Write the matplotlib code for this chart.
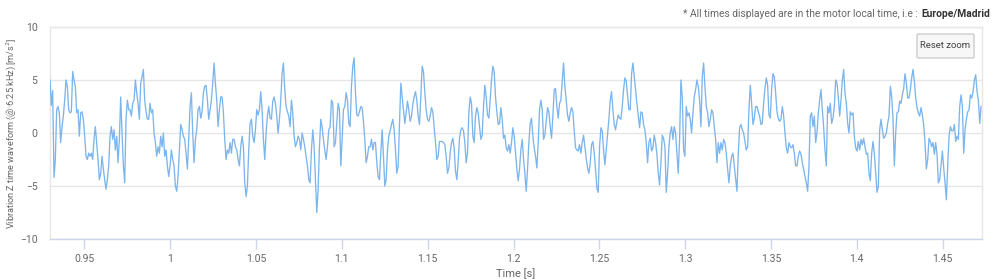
import numpy as np
import matplotlib
matplotlib.use("Agg")
import matplotlib.pyplot as plt
from matplotlib.patches import FancyBboxPatch
from matplotlib.lines import Line2D

plt.rcParams['font.family'] = ['Roboto', 'DejaVu Sans']

# DATA
# vibration z waveform, one value every dt seconds
t_start = 0.930
dt = 0.000777

z_0930 = [5.0, 2.6, 4.0, -4.2, -2.5, 2.2, 2.5, 1.9, -0.9, 0.6, 1.6, 3.1, 5.0, 4.4, 2.2, 1.9,
          2.0, 5.8, 5.0, 4.4, 1.9, 2.2, -0.3, 1.9, 2.0, 1.3, -0.3, -2.2, -2.5, -1.9, -2.2, -1.9,
          -2.5, -0.6, 0.6, -0.9, -2.5, -4.4, -3.8, -2.2, -3.4, -4.4, -5.3, -4.4, -3.1, -0.3, 0.6,
          -0.6, 0.3, -1.6, -0.3, -2.8, -0.6, 3.4, 0.0, -3.1, -4.7, 1.3, 3.1, 2.2, 2.2, 1.6, 2.8,
          3.1, 5.0, 3.8, 2.8, 1.3, 4.7, 5.3, 6.0, 3.1, 2.0, 1.3, 1.3, 2.8, 1.9, 2.2, 0.0, -0.9,
          -2.2, -1.3, -1.9, -0.3, -1.3, 0.0, -2.2, -1.6, -3.1, -4.1, -3.1]

z_1001 = [-1.6, -2.5, -3.1, -5.0, -5.5, -4.1, -1.6, 0.8, 0.3, -0.3, -0.6, -1.9, -3.4, -0.6, 2.5,
          3.8, 0.0, -2.8, -0.6, 0.3, 2.2, 2.5, 1.4, 2.0, 3.8, 4.4, 4.5, 3.1, 1.3, 2.2, 3.1, 4.7,
          6.6, 4.7, 3.1, 0.6, 2.2, 3.4, 3.4, 1.9, -0.6, -2.5, -1.6, -1.9, -0.9, -1.9, -0.6, -0.6,
          -1.3, -1.6, -2.5, -3.1, -1.3, -0.3, -1.3, -4.7, -6.0, -5.0, -1.6, 0.9, 1.3, -0.3, -0.9,
          0.3, 2.2, 1.7, 2.2, 3.9, 2.2, -0.6, -2.5, 0.0, 1.6, 2.5, 1.4, 1.3, 3.0, 3.4, 2.8, 1.6,
          0.0, 1.3, 3.1, 5.6, 6.6, 4.1, 2.5, 2.0, 1.6, 0.6, 3.1, 1.9, -0.3, -1.3, -0.9, -0.3,
          -0.6, -1.6, 0.0, -0.6, -1.3, -2.2, -3.1, -4.4, -4.7, -1.6, 0.3, -1.3, -4.4, -7.5, -5.3,
          -1.3, 1.3, 0.6, -0.6, -1.6, -2.5, -1.3, 0.3, 0.6, 3.1, 2.8, -1.3]

z_1096 = [-0.9, 0.9, 2.8, 2.2, -3.1, -0.6, 2.2, 2.5, 3.8, 3.1, 0.9, 0.6, 4.4, 6.3, 7.1, 3.8,
          1.7, 1.6, 2.0, 2.5, 2.4, 1.1, -0.6, -2.8, -2.2, -1.3, -1.3, -0.6, -1.6, -0.9, -0.9,
          -2.8, -4.1, -4.4, -1.9, 0.3, -2.2, -5.0, -4.4, -1.6, -0.3, 0.2, 0.8, 1.3, 0.3, -1.6,
          -3.8, -3.1, 0.9, 4.7, 3.4, 2.2, 0.9, 1.9, 3.0, 2.2, 1.1, 1.6, 2.7, 3.4, 3.9, 3.1, 1.6,
          0.8, 3.4, 6.3, 5.8, 3.8, 2.2, 1.3, 1.1, 1.6, 2.4, 2.0, 0.6, -0.9, -2.5, -2.2, -0.8,
          -0.8, -0.8, -0.9, -1.1, -2.2, -3.8, -3.3, -1.9, -0.9, -0.5, -1.4, -3.6, -4.4, -2.7,
          -0.5, 0.3, 0.5, 0.2, -0.9, -2.8, -1.9, 1.9, 3.4, 2.8, -0.3, -0.9, 1.6, 2.4, 1.9, 0.6,
          -0.6, -0.2, 2.5, 4.5, 3.4, 1.7, 1.4, 3.1, 5.0, 6.3, 5.8, 3.4, 2.0, 0.8, 0.9]

z_1193 = [2.4, 1.3, -0.5, -0.2, -1.4, -1.7, -1.1, -1.9, -0.9, 0.5, -0.3, -1.9, -3.4, -4.5, -3.4,
          -1.6, -0.6, -2.4, -3.8, -5.5, -3.4, -0.9, 0.9, 1.4, -0.3, -1.4, -2.2, -3.3, -0.9, 2.2,
          3.1, 2.2, -0.6, -0.2, 1.1, 2.4, 2.0, 0.6, -0.5, 1.6, 4.1, 4.2, 2.5, 1.4, 2.8, 3.1, 4.9,
          6.6, 4.4, 3.0, 1.7, 1.1, 1.9, 2.4, 2.0, 0.2, -1.4, -1.6, -1.7, -1.1, -1.9, -0.9, -0.2,
          -1.3, -2.4, -3.3, -3.8, -2.8, -1.1, -0.8, -1.9, -3.4, -5.2, -5.6, -1.3, 0.5, 0.2, -1.6,
          -3.0, -1.6, -0.2, 1.3, 3.1, 3.9, 2.2, 0.8, 0.3, 1.1, 1.7, 1.4, 1.3, 2.5, 4.1, 5.2, 4.9,
          3.6, 2.2, 2.2, 5.6, 6.6, 5.3, 3.9, 2.8, 1.6, 0.5, 2.0, 1.9, 0.8, 0.3, -0.9, -2.8, -0.9,
          -0.5, -1.7, -1.4, -0.2, -0.9, -2.0, -3.8, -4.9, -2.8, -0.2, -0.5, -1.3]

z_1289 = [-5.6, -3.8, -1.3, 0.0, 0.6, -0.6, 0.6, 0.0, -1.9, -3.8, -0.6, 5.0, 3.4, -1.6, -2.2,
          2.5, 1.6, 1.9, 1.3, 0.0, 1.9, 3.4, 4.1, 5.0, 4.4, 3.1, 0.6, 5.3, 6.6, 4.4, 2.5, 1.9,
          0.6, 1.3, 2.2, 1.9, 0.6, -0.6, -2.8, -0.9, -1.9, -0.9, -1.6, -0.6, -0.9, -1.9, -3.4,
          -4.7, -3.1, -2.2, -1.9, -3.1, -4.4, -5.5, -1.9, 0.5, 0.8, 0.3, 0.0, -0.8, -1.6, -1.3,
          2.2, 4.5, 2.8, 0.8, 1.4, 2.5, 2.5, 2.0, 1.6, 0.8, 0.9, 2.8, 4.2, 5.2, 4.5, 1.7, 1.4,
          4.1, 5.6, 5.3, 3.8, 2.0, 1.4, 1.1, 1.3, 2.5, 1.6, 0.0, -1.4, -1.9, -0.9, -1.3, -1.4,
          -1.1, -1.9, -3.1, -3.1, -2.2, -1.7, -2.0, -2.8, -3.4, -4.1, -4.7, -5.5, -3.1, 1.6, 1.9,
          0.6, 1.6, -0.9, 0.0, 1.9, 3.1, 4.1, 2.2, 0.6, -1.6, -3.1, 2.5, 1.9, 2.8]

z_1385 = [0.9, 1.4, 2.5, 5.0, 4.7, 3.4, 1.6, 3.1, 5.0, 6.0, 3.8, 2.8, 0.9, 0.0, 2.0, 1.7, 1.9,
          -0.3, -1.4, -1.7, -0.8, -1.6, -0.6, -1.1, -0.5, -1.3, -2.0, -1.9, -3.8, -4.5, -1.9,
          -0.8, -1.9, -3.8, -5.6, -5.0, 0.3, 1.3, 0.3, -0.5, -0.3, 0.0, 0.9, 1.6, 4.4, 3.4, 1.3,
          -3.1, 0.0, 1.9, 2.0, 3.0, 2.8, 3.6, 4.2, 5.6, 4.7, 3.3, 3.3, 4.1, 5.2, 6.0, 4.9, 3.3,
          2.4, 1.9, 1.6, 2.4, 1.7, 0.8, -0.9, -3.4, -2.5, -0.5, -0.8, -1.3, -0.9, -2.0, -0.9,
          -2.0, -4.7, -4.4, -3.0, -1.7, -3.3, -4.7, -6.3, -3.1, -0.3, 0.6, 0.2, 0.2, 0.8, -0.8,
          -0.3, -0.6, 2.5, 3.6, 2.5, -1.9, 0.3, 1.3, 2.0, 2.2, 3.6, 3.3, 3.9, 5.0, 5.5, 3.9, 3.1,
          0.9, 2.5]

x_ticks = [0.95, 1.0, 1.05, 1.1, 1.15, 1.2, 1.25, 1.3, 1.35, 1.4, 1.45]
x_tick_labels = ['0.95', '1', '1.05', '1.1', '1.15', '1.2', '1.25', '1.3', '1.35', '1.4', '1.45']
y_ticks = [-10, -5, 0, 5, 10]

z = np.array(z_0930 + z_1001 + z_1096 + z_1193 + z_1289 + z_1385)
t = t_start + dt * np.arange(len(z))

W, H = 1000, 279
fig = plt.figure(figsize=(W / 100, H / 100), dpi=100)
ax = fig.add_axes([50 / W, 1 - 239 / H, 932 / W, 212 / H])

ax.plot(t, z, color='#7cb5ec', lw=0.95, zorder=3)

ax.set_xlim(0.930, 1.4729)
ax.set_ylim(-10, 10)
ax.set_yticks(y_ticks)
ax.set_xticks(x_ticks)
ax.set_xticklabels(x_tick_labels)
ax.grid(axis='y', color='#e6e6e6', lw=1)
ax.set_axisbelow(True)

for side in ['left', 'right', 'top']:
    ax.spines[side].set_color('#e6e6e6')
    ax.spines[side].set_linewidth(1)
ax.spines['bottom'].set_color('#ccd6eb')
ax.spines['bottom'].set_linewidth(1)

ax.tick_params(axis='x', colors='#ccd6eb', length=7, width=1, labelcolor='#666666',
               labelsize=7.5, pad=4)
ax.tick_params(axis='y', length=0, labelcolor='#666666', labelsize=7.5, pad=9)

ax.set_xlabel('Time [s]', color='#666666', fontsize=8, labelpad=3)
ax.set_ylabel('Vibration Z time waveform (@ 6.25 kHz) [m/s$^2$]', color='#666666',
              fontsize=6.6)
ax.yaxis.set_label_coords(-32 / 932, 0.5)

# note at the top right
note_b = fig.text(990 / W, 1 - 14 / H, 'Europe/Madrid', ha='right', va='center',
                  fontsize=7.4, fontweight='bold', color='#333333')
fig.canvas.draw()
bb = note_b.get_window_extent()
fig.text((bb.x0 - 3) / W, 1 - 14 / H, '* All times displayed are in the motor local time, i.e :',
         ha='right', va='center', fontsize=7.4, color='#666666')

# reset zoom button
btn = FancyBboxPatch((917 / W, 1 - 58 / H), 57 / W, 24 / H,
                     boxstyle='round,pad=0,rounding_size=0.003',
                     transform=fig.transFigure, facecolor='#f7f7f7',
                     edgecolor='#cccccc', lw=1, zorder=5)
fig.patches.append(btn)
fig.text(945.5 / W, 1 - 46 / H, 'Reset zoom', ha='center', va='center',
         fontsize=6.8, color='#444444', zorder=6)

# faint side arrow on the left edge
fig.lines.append(Line2D([11 / W, 5 / W, 11 / W], [1 - 105 / H, 1 - 112 / H, 1 - 119 / H],
                        transform=fig.transFigure, color='#e3e3e3', lw=1))

fig.savefig('out.png', dpi=100)
